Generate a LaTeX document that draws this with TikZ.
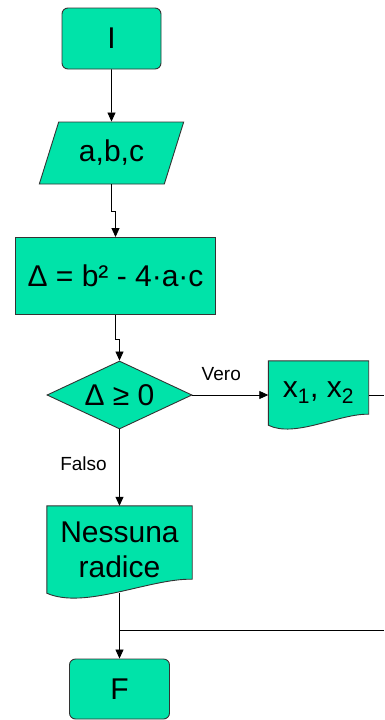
\documentclass[tikz,border=0pt]{standalone}
\usepackage{fontspec}
\setmainfont{Liberation Sans}
\usepackage{tikz}
\usetikzlibrary{arrows.meta,calc,shapes.geometric,backgrounds}
\definecolor{flowgreen}{HTML}{00E3A9}
\definecolor{edgegray}{HTML}{333333}

\tikzset{
  block/.style={draw=edgegray, fill=flowgreen, line width=0.9pt, inner sep=0pt,
    font=\fontsize{30}{35}\selectfont},
  termbox/.style={block, rectangle, rounded corners=6pt},
  procbox/.style={block, rectangle},
  iobox/.style={block, trapezium, trapezium left angle=65, trapezium right angle=115,
    trapezium stretches=true},
  testbox/.style={block, diamond, aspect=2.13},
  docbox/.style={rectangle, inner sep=0pt, align=center, font=\fontsize{30}{35}\selectfont},
  flow/.style={line width=0.8pt, -{Triangle[length=9pt,width=8pt]}},
  wire/.style={line width=0.8pt},
  lbl/.style={font=\fontsize{19}{20}\selectfont},
}

% document symbol: flat top, wavy bottom (right end raised by #2)
\newcommand{\docshape}[2]{%
  \begin{pgfonlayer}{background}
  \draw[draw=edgegray, fill=flowgreen, line width=0.9pt]
    (#1.south west) -- (#1.north west) -- (#1.north east) -- ($(#1.south east)+(0,-#2)$)
    .. controls ($(#1.south west)!0.71!(#1.south east)+(0,-1.07*#2)$)
    and ($(#1.south west)!0.26!(#1.south east)+(0,1.2*#2)$) .. (#1.south west) -- cycle;
  \end{pgfonlayer}}

\begin{document}
\begin{tikzpicture}[x=1pt,y=-1pt]
  \useasboundingbox (0,0) rectangle (384,720);

  \node[termbox, minimum width=99pt, minimum height=61pt] (start) at (111.5,38.5) {I};
  \node[iobox, minimum width=145pt, minimum height=62pt] (in) at (111.5,153) {a,b,c};
  \node[procbox, minimum width=200pt, minimum height=77pt] (calc) at (115.5,276) {Δ = b² - 4·a·c};
  \node[testbox, minimum width=145pt, minimum height=68pt] (test) at (119.5,395) {Δ ≥ 0};
  \node[docbox, minimum width=100pt, minimum height=64pt] (out) at (318.5,393) {x\textsubscript{1}, x\textsubscript{2}};
  \node[docbox, minimum width=145pt, minimum height=87pt] (nores) at (119.5,549.5) {Nessuna\\radice};
  \node[termbox, minimum width=100pt, minimum height=60pt] (end) at (119.5,689) {F};
  \docshape{out}{11}
  \docshape{nores}{14}

  \coordinate (outR) at (384,395);
  \coordinate (joinR) at (384,630.5);

  \draw[flow] (start.south) -- (in.north);
  \draw[flow] (in.south) -- ++(0,27) -| (calc.north);
  \draw[flow] (calc.south) -- ++(0,24) -| (test.north);
  \draw[flow] (test.east) -- node[lbl, above=11pt, pos=0.38] {Vero} (test.east -| out.west);
  \draw[wire] (test.east -| out.east) -- (outR);
  \draw[flow] (test.south) -- node[lbl, left=9pt, pos=0.45] {Falso} (nores.north);
  \draw[flow] (nores.south) -- (end.north);
  \draw[wire] (joinR) -- (joinR -| nores.south);
\end{tikzpicture}
\end{document}
